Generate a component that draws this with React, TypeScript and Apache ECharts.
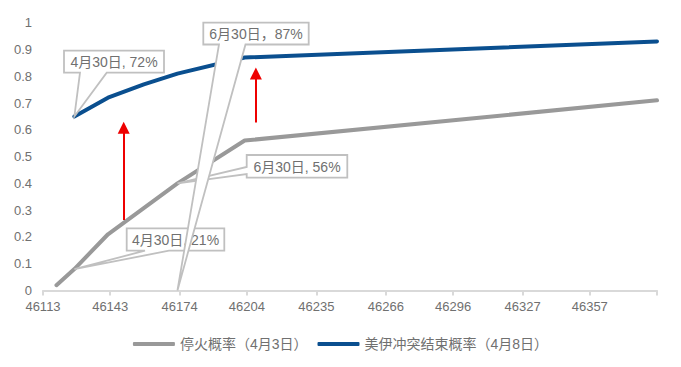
import React, { useEffect, useRef } from 'react';
import * as echarts from 'echarts';

// ---- data ----
const xTickValues = [46113, 46143, 46174, 46204, 46235, 46266, 46296, 46327, 46357, 46387];
const xLabelValues = [46113, 46143, 46174, 46204, 46235, 46266, 46296, 46327, 46357];
const seriesNames = ['停火概率（4月3日）', '美伊冲突结束概率（4月8日）'];
const ceasefireDates = [46119, 46127, 46142, 46173, 46203, 46387];
const ceasefireValues = [0.02, 0.08, 0.21, 0.4, 0.56, 0.71];
const conflictEndDates = [46127, 46142, 46158, 46173, 46203, 46387];
const conflictEndValues = [0.65, 0.72, 0.77, 0.81, 0.87, 0.93];
const calloutTexts = ['4月30日, 21%', '6月30日, 56%', '4月30日, 72%', '6月30日，87%'];
const calloutTargets = [
  [46127, 0.08],
  [46173, 0.4],
  [46127, 0.65],
  [46173, 0],
];
const arrowX = [46149, 46208];
const arrowFrom = [0.263, 0.627];
const arrowTo = [0.608, 0.81];

const FONT = "'Liberation Sans', Arial, 'Noto Sans CJK SC', sans-serif";
const GREY_TEXT = '#707070';

// callout boxes (pixel layout)
const boxes = [
  { x1: 126.7, y1: 228.3, x2: 224.3, y2: 250.7, side: 'bottom', a: 145, b: 169 },
  { x1: 246.7, y1: 155, x2: 347.3, y2: 177.7, side: 'left', a: 167, b: 174 },
  { x1: 64, y1: 50.7, x2: 164, y2: 72.7, side: 'bottom', a: 80, b: 106.7 },
  { x1: 203.3, y1: 22.7, x2: 308.7, y2: 44.5, side: 'bottom', a: 219, b: 245.5 },
];

export default function App() {
  const ref = useRef<HTMLDivElement>(null);
  useEffect(() => {
    if (!ref.current) return;
    const chart = echarts.init(ref.current, undefined, { renderer: 'svg' });
    const arrowLines = arrowX.map((x, i) => [
      { coord: [x, arrowFrom[i]] },
      { coord: [x, arrowTo[i]] },
    ]);
    chart.setOption({
      animation: false,
      textStyle: { fontFamily: FONT },
      grid: { left: 43, right: 24, top: 22.7, bottom: 76.5 },
      legend: {
        top: 332,
        left: 'center',
        icon: 'roundRect',
        itemWidth: 42,
        itemHeight: 4,
        itemGap: 10,
        textStyle: { fontSize: 14, color: GREY_TEXT, fontFamily: FONT },
        data: seriesNames,
      },
      xAxis: {
        type: 'value',
        min: 46113,
        max: 46387,
        splitLine: { show: false },
        axisLine: { show: true, lineStyle: { color: '#d9d9d9', width: 2 } },
        axisTick: {
          show: true,
          length: 5,
          customValues: xTickValues,
          lineStyle: { color: '#d9d9d9', width: 2 },
        },
        axisLabel: {
          customValues: xLabelValues,
          margin: 9,
          fontSize: 13,
          color: GREY_TEXT,
          fontFamily: FONT,
          formatter: (v: number) => String(v),
        },
      },
      yAxis: {
        type: 'value',
        min: 0,
        max: 1,
        interval: 0.1,
        splitLine: { show: false },
        axisLine: { show: false },
        axisTick: { show: false },
        axisLabel: { margin: 11, fontSize: 13, color: GREY_TEXT, fontFamily: FONT },
      },
      series: [
        {
          name: seriesNames[0],
          type: 'line',
          symbol: 'none',
          lineStyle: { color: '#999999', width: 4, cap: 'round' },
          itemStyle: { color: '#999999' },
          data: ceasefireDates.map((d, i) => [d, ceasefireValues[i]]),
          z: 2,
        },
        {
          name: seriesNames[1],
          type: 'line',
          symbol: 'none',
          lineStyle: { color: '#0a4f8f', width: 4, cap: 'round' },
          itemStyle: { color: '#0a4f8f' },
          data: conflictEndDates.map((d, i) => [d, conflictEndValues[i]]),
          z: 3,
          markLine: {
            silent: true,
            symbol: ['none', 'triangle'],
            symbolSize: [12, 12],
            label: { show: false },
            lineStyle: { color: '#ee0000', width: 2, type: 'solid' },
            emphasis: { disabled: true },
            data: arrowLines,
          },
        },
      ],
    });

    const elements: any[] = [];
    boxes.forEach((bx, i) => {
      const tip = chart.convertToPixel({ gridIndex: 0 }, calloutTargets[i]) as number[];
      let pts: number[][];
      if (bx.side === 'bottom') {
        pts = [
          [bx.x1, bx.y1], [bx.x2, bx.y1], [bx.x2, bx.y2], [bx.b, bx.y2],
          tip, [bx.a, bx.y2], [bx.x1, bx.y2],
        ];
      } else {
        pts = [
          [bx.x1, bx.y1], [bx.x2, bx.y1], [bx.x2, bx.y2], [bx.x1, bx.y2],
          [bx.x1, bx.b], tip, [bx.x1, bx.a],
        ];
      }
      elements.push({
        type: 'polygon',
        z: 10 + i * 2,
        silent: true,
        shape: { points: pts },
        style: { fill: '#ffffff', stroke: '#c0c0c0', lineWidth: 1.8 },
      });
      elements.push({
        type: 'text',
        z: 11 + i * 2,
        silent: true,
        x: (bx.x1 + bx.x2) / 2,
        y: (bx.y1 + bx.y2) / 2 + 0.5,
        style: {
          text: calloutTexts[i],
          fill: GREY_TEXT,
          fontSize: 14,
          fontFamily: FONT,
          align: 'center',
          verticalAlign: 'middle',
        },
      });
    });
    chart.setOption({ graphic: { elements } });

    return () => chart.dispose();
  }, []);
  return (
    <div
      ref={ref}
      style={{ position: 'fixed', left: 0, top: 0, width: 681, height: 367, background: '#fff' }}
    />
  );
}
